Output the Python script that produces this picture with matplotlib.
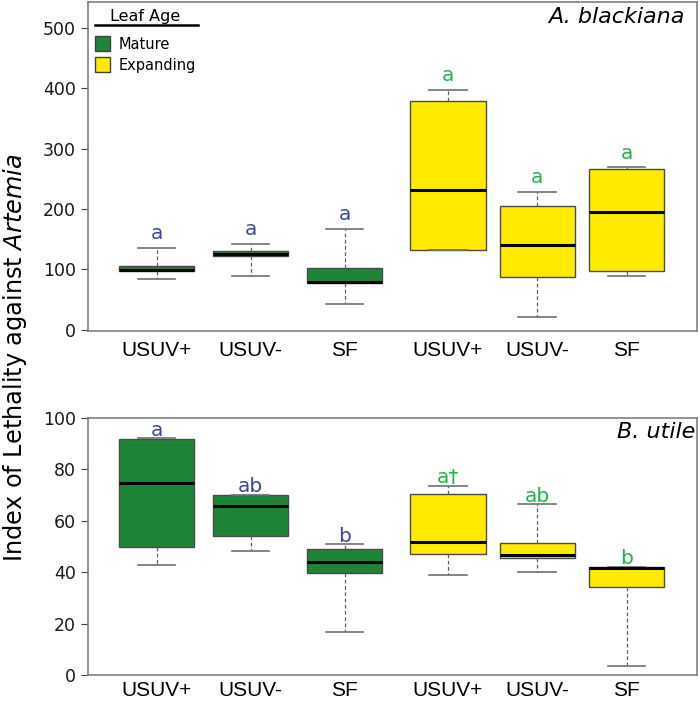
import matplotlib
matplotlib.use("Agg")
import matplotlib.pyplot as plt
from matplotlib.patches import Patch
from matplotlib.lines import Line2D

# groups, left to right
groups = ["USUV+", "USUV-", "SF", "USUV+", "USUV-", "SF"]
leaf_age = ["Mature"] * 3 + ["Expanding"] * 3
positions = [1, 2, 3, 4.1, 5.05, 6.0]

# A. blackiana box stats: whisker low, q1, median, q3, whisker high
ab_wlo = [84, 89, 43, 132, 21, 89]
ab_q1 = [98, 123, 78, 132, 87, 98]
ab_med = [99, 126, 79, 231, 141, 195]
ab_q3 = [105, 131, 102, 379, 205, 267]
ab_whi = [136, 142, 167, 397, 229, 269]
ab_letters = ["a", "a", "a", "a", "a", "a"]

# B. utile box stats
bu_wlo = [42.7, 48.4, 16.9, 38.8, 40.0, 3.6]
bu_q1 = [49.7, 54.1, 39.7, 47.0, 45.6, 34.2]
bu_med = [74.9, 65.6, 44.1, 51.8, 46.5, 41.8]
bu_q3 = [92.0, 69.9, 49.2, 70.5, 51.2, 42.0]
bu_whi = [92.2, 70.2, 50.9, 73.6, 66.5, 42.2]
bu_letters = ["a", "ab", "b", "a\u2020", "ab", "b"]

FILL = {"Mature": "#1f8437", "Expanding": "#ffea00"}
LETTER = {"Mature": "#3a479c", "Expanding": "#22b14c"}


def draw_panel(ax, wlo, q1, med, q3, whi, letters, pad, xpad):
    stats = []
    for i in range(len(groups)):
        stats.append(dict(whislo=wlo[i], q1=q1[i], med=med[i], q3=q3[i],
                          whishi=whi[i], fliers=[]))
    bp = ax.bxp(stats, positions=positions, widths=0.8, patch_artist=True,
                showfliers=False,
                boxprops=dict(edgecolor="#4a4a4a", linewidth=1.0),
                medianprops=dict(color="black", linewidth=2.2),
                whiskerprops=dict(color="#606060", linestyle=(0, (3, 2)), linewidth=0.9),
                capprops=dict(color="#707070", linewidth=1.2),
                capwidths=0.4)
    for patch, age in zip(bp["boxes"], leaf_age):
        patch.set_facecolor(FILL[age])
    for i, lab in enumerate(letters):
        ax.text(positions[i], whi[i] + pad, lab, ha="center", va="bottom",
                fontsize=14.5, color=LETTER[leaf_age[i]])
    ax.set_xticks(positions)
    ax.set_xticklabels(groups, fontsize=15, family="Liberation Sans")
    ax.tick_params(axis="x", length=0, pad=xpad)
    ax.tick_params(axis="y", labelsize=12.5, length=5, color="#404040",
                   labelcolor="#1a1a1a")
    for s in ax.spines.values():
        s.set_color("#808080")
        s.set_linewidth(1.2)
    ax.set_xlim(0.27, 6.75)


fig = plt.figure(figsize=(7.0, 7.02), dpi=100)
ax1 = fig.add_axes([0.1257, 0.5285, 0.87, 0.4687])
ax2 = fig.add_axes([0.1257, 0.0385, 0.87, 0.366])

draw_panel(ax1, ab_wlo, ab_q1, ab_med, ab_q3, ab_whi, ab_letters, 8, 7)
ax1.set_ylim(-2, 543)
ax1.set_yticks([0, 100, 200, 300, 400, 500])
ax1.text(0.98, 0.985, "A. blackiana", transform=ax1.transAxes, ha="right",
         va="top", fontsize=16, style="italic")

draw_panel(ax2, bu_wlo, bu_q1, bu_med, bu_q3, bu_whi, bu_letters, -0.6, 4)
ax2.set_ylim(0, 100)
ax2.set_yticks([0, 20, 40, 60, 80, 100])
ax2.text(0.997, 0.985, "B. utile", transform=ax2.transAxes, ha="right",
         va="top", fontsize=16, style="italic")

# legend
handles = [Patch(facecolor=FILL[k], edgecolor="#404040", label=k)
           for k in ["Mature", "Expanding"]]
leg = ax1.legend(handles=handles, title="Leaf Age", loc="upper left",
                 bbox_to_anchor=(-0.005, 1.01), frameon=False, fontsize=10.5,
                 title_fontsize=11.5, handlelength=1.0, handleheight=1.15,
                 handletextpad=0.6, labelspacing=0.4, borderaxespad=0.3)
leg._legend_box.sep = 9
ax1.add_line(Line2D([0.012, 0.18], [0.93, 0.93], transform=ax1.transAxes,
                    color="black", linewidth=1.8))

fig.text(0.022, 0.49, r"Index of Lethality against $\it{Artemia}$", rotation=90,
         ha="center", va="center", fontsize=17.3)

fig.savefig("out.png", dpi=100)
